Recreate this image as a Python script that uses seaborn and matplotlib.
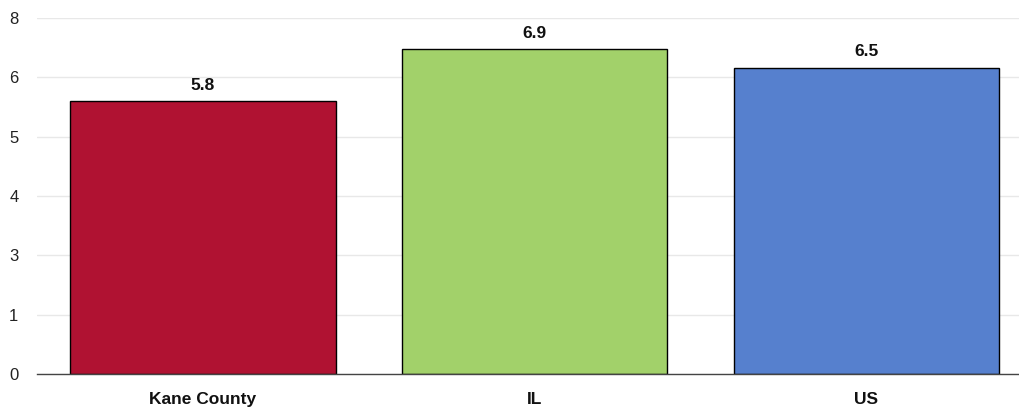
import numpy as np
import pandas as pd
import matplotlib
matplotlib.use('Agg')
import matplotlib.pyplot as plt
import seaborn as sns
from matplotlib.ticker import FormatStrFormatter

# Data
regions = ['Kane County', 'IL', 'US']
values = [5.8, 6.9, 6.5]
colors = ['#B01232', '#A2D16A', '#5680CE']

df = pd.DataFrame({'region': regions, 'value': values})

sns.set_style('white')
plt.rcParams['font.family'] = ['Liberation Sans Narrow', 'Liberation Sans', 'DejaVu Sans']

fig = plt.figure(figsize=(10.19, 4.09), dpi=100)
ax = fig.add_axes([37 / 1019, 35 / 409, 1 - 37 / 1019, 356 / 409])

sns.barplot(data=df, x='region', y='value', hue='region', palette=colors,
            saturation=1, width=0.8, edgecolor='black', linewidth=1,
            legend=False, ax=ax, zorder=3)

for i, v in enumerate(values):
    ax.text(i, v + 0.17, f'{v:.1f}', ha='center', va='bottom',
            fontsize=12.5, fontweight='bold', color='#111111')

ymax = 7.55
ax.set_ylim(0, ymax)
ax.set_yticks(np.linspace(0, ymax, 7))
ax.yaxis.set_major_formatter(FormatStrFormatter('%.0f'))
ax.set_xlim(-0.5, 2.46)
ax.grid(axis='y', color='#e8e8e8', linewidth=1, zorder=0)
ax.grid(axis='x', visible=False)

for s in ['top', 'right', 'left']:
    ax.spines[s].set_visible(False)
ax.spines['bottom'].set_color('#444444')
ax.spines['bottom'].set_linewidth(1)
ax.spines['bottom'].set_zorder(4)

ax.tick_params(axis='y', length=0, labelsize=12, pad=20, colors='#222222')
ax.tick_params(axis='x', length=0, labelsize=12.5, pad=13, colors='#111111')
for lbl in ax.get_xticklabels():
    lbl.set_fontweight('bold')
for lbl in ax.get_yticklabels():
    lbl.set_horizontalalignment('left')

ax.set_xlabel('')
ax.set_ylabel('')

fig.savefig('out.png', dpi=100)
